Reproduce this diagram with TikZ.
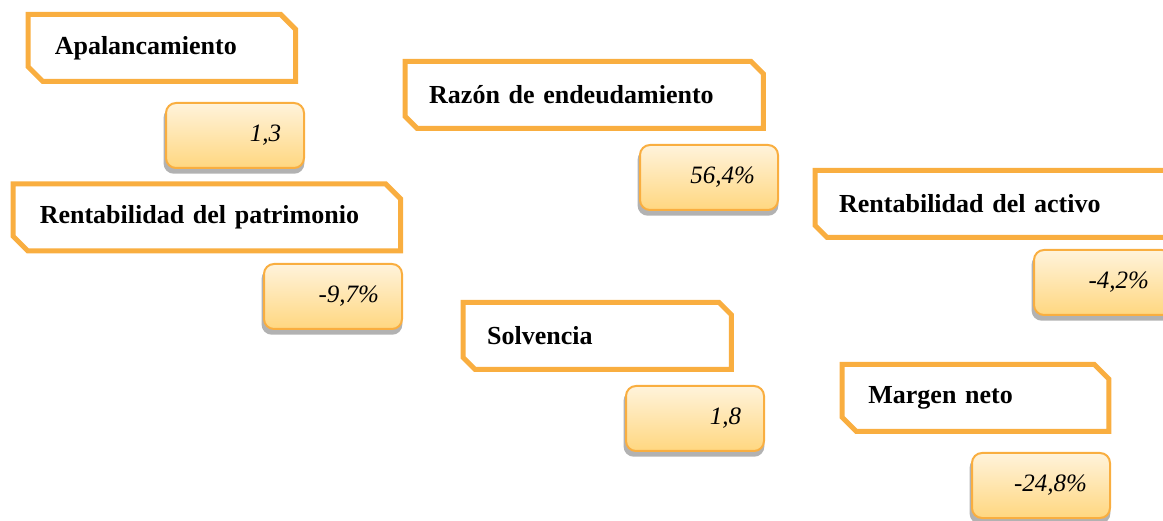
\documentclass[tikz,border=0pt]{standalone}
\usepackage{fontspec}
\setmainfont{Liberation Serif}
\usetikzlibrary{shapes.misc,shadows}

\definecolor{naranja}{HTML}{F9AE40}
\definecolor{cremaclaro}{HTML}{FFF3DB}
\definecolor{cremaoscuro}{HTML}{FFD780}

\tikzset{
  etiqueta/.style={chamfered rectangle,
    chamfered rectangle corners={north east,south west},
    chamfered rectangle xsep=12pt,
    draw=naranja, line width=5pt, fill=white,
    anchor=north west, minimum height=67pt,
    inner xsep=15pt, inner ysep=0pt, align=left,
    font=\fontsize{26}{30}\selectfont\bfseries},
  valor/.style={rectangle, rounded corners=10pt,
    draw=naranja, line width=2pt,
    top color=cremaclaro, bottom color=cremaoscuro,
    drop shadow={shadow xshift=-1pt, shadow yshift=-5pt, shadow scale=1.02,
      fill=black, opacity=0.3},
    anchor=north west, minimum height=65pt, text width=92pt,
    inner xsep=23pt, inner ysep=0pt, align=right,
    font=\fontsize{25}{29}\selectfont\itshape}
}

\begin{document}
\begin{tikzpicture}[x=1pt, y=-1pt]
    \clip (0,0) rectangle (1163,521);

    % indicadores
    \node[etiqueta, text width=214pt] (apal) at (25.5,12) {Apalancamiento};
    \node[etiqueta, text width=310pt] (razon) at (402.5,59) {Razón de endeudamiento};
    \node[etiqueta, text width=334pt] (rpat) at (10.5,181.5) {Rentabilidad del patrimonio};
    \node[etiqueta, text width=320pt] (ract) at (812.5,168) {Rentabilidad del activo};
    \node[etiqueta, text width=220pt] (solv) at (460.5,300) {Solvencia};
    \node[etiqueta, text width=214pt] (marg) at (839.5,362) {Margen neto};

    % valores
    \node[valor] (vapal) at (165,102) {1,3};
    \node[valor] (vrazon) at (639,144) {56,4\%};
    \node[valor] (vrpat) at (263,263) {-9,7\%};
    \node[valor] (vract) at (1033,249) {-4,2\%};
    \node[valor] (vsolv) at (625,385) {1,8};
    \node[valor] (vmarg) at (971,452) {-24,8\%};

\end{tikzpicture}
\end{document}
